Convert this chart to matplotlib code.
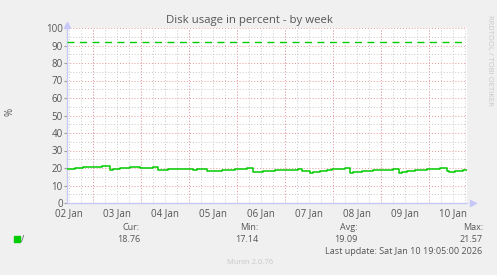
import matplotlib.pyplot as plt

W, H = 497, 275

# hours since graph start (Sat Jan 10 19:05 minus 200 h)
hours = [0, 4, 8, 17.5, 21.5, 23, 26.5, 31.5, 36.5, 43, 45.5, 46.5, 50.5, 55.5,
         63, 65, 70, 72.5, 74, 77.5, 84, 90, 93, 95, 98, 104, 115.5, 117.5,
         121.5, 123, 126.5, 130, 132.5, 139, 141.5, 143, 147.5, 153, 163, 166,
         167.5, 170, 174, 180, 186.5, 190, 191, 194, 198, 200]
usage = [19.4, 20.0, 20.6, 21.1, 19.1, 19.4, 20.0, 20.6, 20.0, 20.6, 18.9, 18.6,
         19.2, 19.4, 18.9, 19.4, 18.1, 18.4, 18.3, 18.9, 19.4, 20.0, 17.5, 17.8,
         18.3, 18.9, 19.4, 18.3, 17.2, 17.8, 18.3, 18.9, 19.4, 20.0, 17.2, 17.8,
         18.3, 18.9, 19.4, 17.4, 17.8, 18.3, 18.9, 19.4, 20.0, 18.1, 17.8, 18.3,
         18.9, 18.9]
warning = 92

day_labels = ['02 Jan', '03 Jan', '04 Jan', '05 Jan', '06 Jan',
              '07 Jan', '08 Jan', '09 Jan', '10 Jan']
first_noon = 55 / 60        # Jan 2 12:00 in hours from start
first_midnight = first_noon + 12
span = 200

stats = [('Cur:', '18.76'), ('Min:', '17.14'), ('Avg:', '19.09'), ('Max:', '21.57')]
last_update = 'Last update: Sat Jan 10 19:05:00 2026'

plt.rcParams['font.family'] = ['Open Sans', 'DejaVu Sans']
txt = '#555555'
green = '#00cc00'
axis_col = '#c8c8f8'

fig = plt.figure(figsize=(W / 100, H / 100), dpi=100, facecolor='#f0f0f0')
ax = fig.add_axes([67 / W, (H - 203) / H, 400 / W, 175 / H])
ax.set_facecolor('white')
ax.set_xlim(0, span)
ax.set_ylim(0, 100)

# grid
for k in range(0, span // 6 + 1):
    ax.axvline(first_noon + 6 * k, color='#c8c8c8', lw=0.7, ls=(0, (1, 2)), zorder=1)
for k in range(0, 9):
    ax.axvline(first_midnight + 24 * k, color='#e89a9a', lw=0.7, ls=(0, (1, 2)), zorder=1)
for v in range(5, 100, 10):
    ax.axhline(v, color='#c8c8c8', lw=0.7, ls=(0, (1, 2)), zorder=1)
for v in range(10, 101, 10):
    ax.axhline(v, color='#e89a9a', lw=0.7, ls=(0, (1, 2)), zorder=1)

ax.step(hours, usage, where='post', color=green, lw=1.1, zorder=3)
ax.axhline(warning, color=green, lw=1.0, ls=(0, (5, 4)), zorder=3)

ax.set_xticks([first_noon + 24 * i for i in range(len(day_labels))])
ax.set_xticklabels(day_labels)
ax.set_yticks(range(0, 101, 10))
ax.tick_params(axis='x', colors=txt, labelsize=7, length=0, pad=4)
ax.tick_params(axis='y', colors=txt, labelsize=7, length=2, pad=1)
ax.tick_params(axis='y', color='#999999')

for s in ['top', 'right']:
    ax.spines[s].set_visible(False)
for s in ['left', 'bottom']:
    ax.spines[s].set_color(axis_col)
    ax.spines[s].set_linewidth(1)

# axis arrows
ax.plot([0], [101.5], marker='^', color=axis_col, ms=4, clip_on=False, zorder=4)
ax.plot([span + 3], [0], marker='>', color=axis_col, ms=4, clip_on=False, zorder=4)

def px(x, y):
    return x / W, 1 - y / H

fig.text(*px(250, 20), 'Disk usage in percent - by week', ha='center', va='center',
         fontsize=8.2, color=txt)
fig.text(*px(10, 112), '%', ha='center', va='center', rotation=90, fontsize=7, color=txt)
fig.text(*px(490, 60), 'RRDTOOL / TOBI OETIKER', ha='center', va='center', rotation=270,
         fontsize=5.5, color='#c8c8c8')

fig.patches.append(plt.Rectangle(px(14, 242), 6 / W, 6 / H, transform=fig.transFigure,
                                 color=green))
fig.text(*px(21, 239), '/', ha='left', va='center', fontsize=6.5, color=txt)
stat_x = [140, 258, 358, 483]
for x, (lab, val) in zip(stat_x, stats):
    fig.text(*px(x, 228), lab, ha='right', va='center', fontsize=6.5, color=txt)
    fig.text(*px(x, 240), val, ha='right', va='center', fontsize=6.5, color=txt)
fig.text(*px(482, 252), last_update, ha='right', va='center', fontsize=6.5, color=txt)
fig.text(*px(250, 263), 'Munin 2.0.76', ha='center', va='center', fontsize=5.5,
         color='#c8c8c8')

fig.savefig('out.png', dpi=100, facecolor=fig.get_facecolor())
